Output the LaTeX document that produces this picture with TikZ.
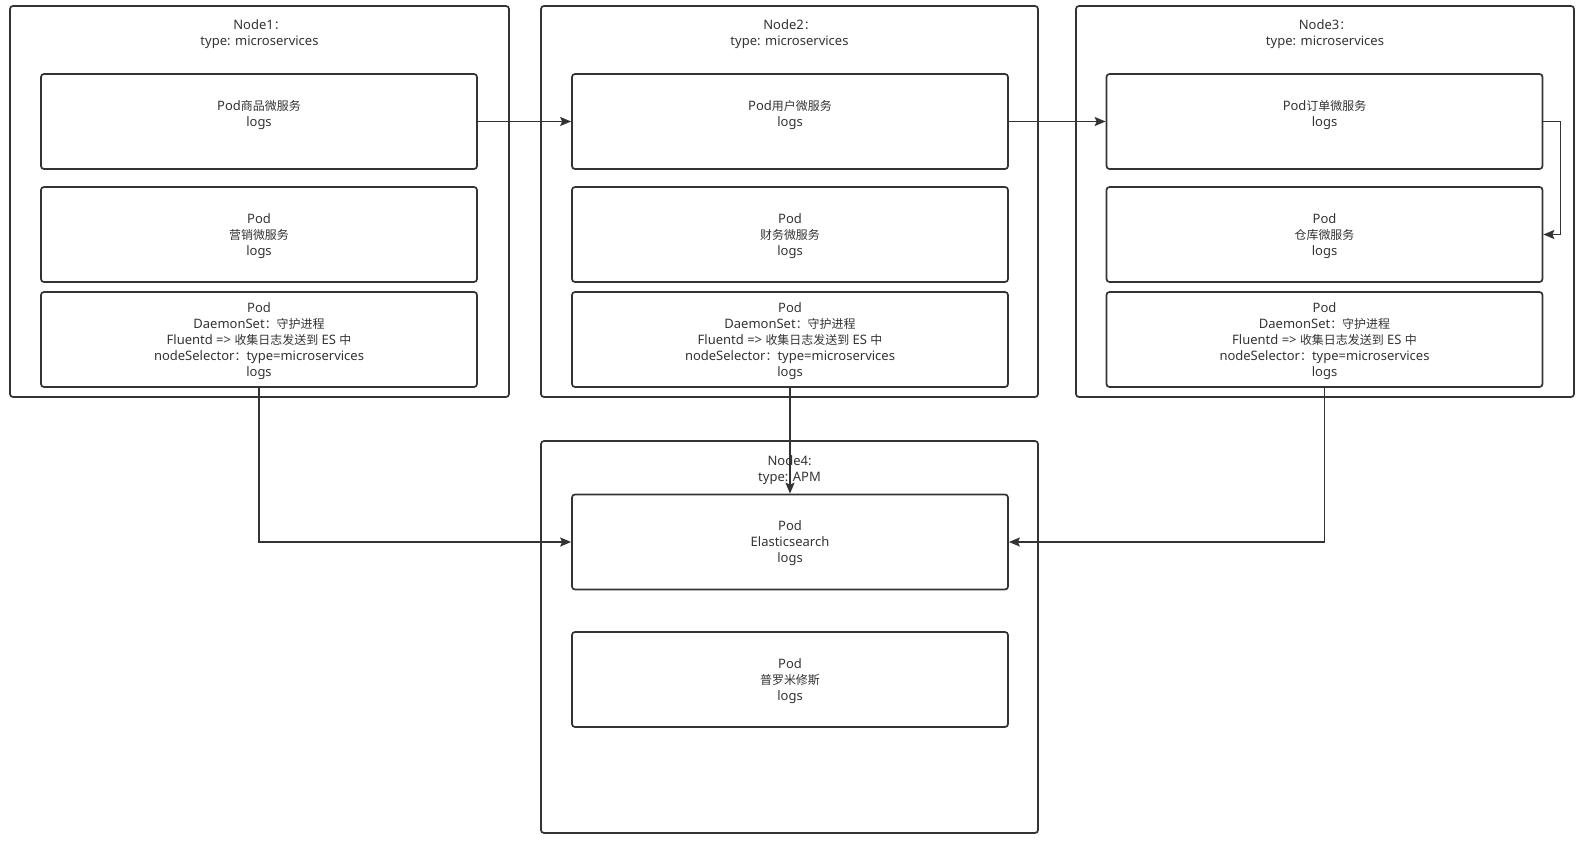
\documentclass[tikz,border=0pt]{standalone}
\usepackage{fontspec}
\setmainfont{Noto Sans}
\newfontfamily\cjk[Scale=0.92]{Noto Sans CJK SC}
\usetikzlibrary{arrows.meta}
\definecolor{ink}{HTML}{333333}
\begin{document}
\begin{tikzpicture}[x=1pt,y=-1pt,
  outerbox/.style={draw=ink, line width=1.7pt, rounded corners=3pt, minimum width=#1, minimum height=391pt, inner sep=0pt},
  podbox/.style={draw=ink, line width=1.7pt, rounded corners=3pt, minimum width=436pt, minimum height=95pt, inner sep=0pt, align=center, text=ink, font=\fontsize{13pt}{16pt}\selectfont, text depth=-2.5pt},
  title/.style={align=center, text=ink, inner sep=0pt, font=\fontsize{13pt}{16pt}\selectfont},
  flow/.style={draw=ink, line width=1.7pt, -{Stealth[length=11pt,width=9pt,inset=2pt]}}
]
\useasboundingbox (0,0) rectangle (1580,841);
% outer nodes
\node[outerbox=499pt] (N1) at (259.5,201.5) {};
\node[outerbox=497pt] (N2) at (789.5,201.5) {};
\node[outerbox=498pt] (N3) at (1325,201.5) {};
\node[outerbox=497pt, minimum height=392pt] (N4) at (789.5,637) {};
% titles
\node[title] (t1) at (259.5,34) {Node1{\cjk ：}\\type: microservices};
\node[title] (t2) at (789.5,34) {Node2{\cjk ：}\\type: microservices};
\node[title] (t3) at (1325,34) {Node3{\cjk ：}\\type: microservices};
\node[title] (t4) at (789.5,470.5) {Node4:\\type: APM};
% pods node1
\node[podbox] (a1) at (259,121.5) {Pod{\cjk 商品微服务}\\logs\\\mbox{}};
\node[podbox] (a2) at (259,234.5) {Pod\\{\cjk 营销微服务}\\logs};
\node[podbox] (a3) at (259,339.5) {Pod\\DaemonSet{\cjk ：守护进程}\\Fluentd => {\cjk 收集日志发送到} ES {\cjk 中}\\nodeSelector{\cjk ：}type=microservices\\logs};
% pods node2
\node[podbox] (b1) at (790,121.5) {Pod{\cjk 用户微服务}\\logs\\\mbox{}};
\node[podbox] (b2) at (790,234.5) {Pod\\{\cjk 财务微服务}\\logs};
\node[podbox] (b3) at (790,339.5) {Pod\\DaemonSet{\cjk ：守护进程}\\Fluentd => {\cjk 收集日志发送到} ES {\cjk 中}\\nodeSelector{\cjk ：}type=microservices\\logs};
% pods node3
\node[podbox] (c1) at (1324.5,121.5) {Pod{\cjk 订单微服务}\\logs\\\mbox{}};
\node[podbox] (c2) at (1324.5,234.5) {Pod\\{\cjk 仓库微服务}\\logs};
\node[podbox] (c3) at (1324.5,339.5) {Pod\\DaemonSet{\cjk ：守护进程}\\Fluentd => {\cjk 收集日志发送到} ES {\cjk 中}\\nodeSelector{\cjk ：}type=microservices\\logs};
% pods node4
\node[podbox] (es) at (790,542) {Pod\\Elasticsearch\\logs};
\node[podbox] (pm) at (790,679.5) {Pod\\{\cjk 普罗米修斯}\\logs};
% connectors
\draw[flow] (a1.east) -- (b1.west);
\draw[flow] (b1.east) -- (c1.west);
\draw[flow] (c1.east) -- ++(17,0) |- (c2.east);
\draw[flow] (a3.south) |- (es.west);
\draw[flow] (b3.south) -- (es.north);
\draw[flow] (c3.south) |- (es.east);
\end{tikzpicture}
\end{document}
